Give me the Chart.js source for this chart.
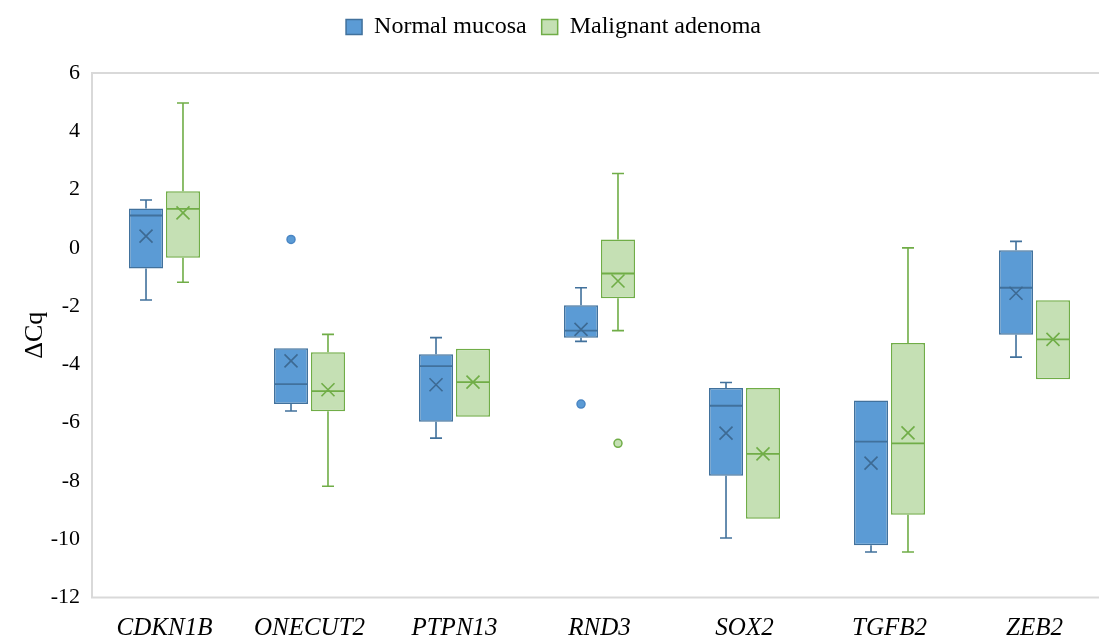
<!DOCTYPE html>
<html>
<head>
<meta charset="utf-8">
<script src="https://cdn.jsdelivr.net/npm/chart.js@4.4.1/dist/chart.umd.min.js"></script>
<style>
  html, body { margin: 0; padding: 0; background: #ffffff; overflow: hidden; }
  #wrap { width: 1115px; height: 639px; }
</style>
</head>
<body>
<div id="wrap"><canvas id="chart" width="1115" height="639"></canvas></div>
<script>
// Genes on the x axis
const categories = ['CDKN1B', 'ONECUT2', 'PTPN13', 'RND3', 'SOX2', 'TGFB2', 'ZEB2'];

// Normal mucosa: five-number summary, mean and outliers (ΔCq)
const normalMin      = [-1.79, -5.60, -6.53, -3.21, -9.96, -10.44, -3.75];
const normalQ1       = [-0.71, -5.36, -5.97, -3.09, -7.82, -10.21, -2.98];
const normalMedian   = [ 1.11, -4.68, -4.06, -2.84, -5.42,  -6.65, -1.37];
const normalQ3       = [ 1.35, -3.45, -3.65, -1.97, -4.81,  -5.24, -0.08];
const normalMax      = [ 1.64, -3.45, -3.08, -1.37, -4.62,  -5.24,  0.22];
const normalMean     = [ 0.40, -3.88, -4.70, -2.80, -6.36,  -7.39, -1.56];
const normalOutliers = [[], [0.29], [], [-5.36], [], [], []];

// Malignant adenoma: five-number summary, mean and outliers (ΔCq)
const adenomaMin      = [-1.18, -8.18, -5.80, -2.84, -9.30, -10.44, -4.51];
const adenomaQ1       = [-0.34, -5.61, -5.80, -1.73, -9.30,  -9.16, -4.51];
const adenomaMedian   = [ 1.34, -4.92, -4.61, -0.88, -7.07,  -6.71, -3.14];
const adenomaQ3       = [ 1.94, -3.58, -3.46,  0.29, -4.81,  -3.27, -1.80];
const adenomaMax      = [ 4.97, -2.97, -3.46,  2.55, -4.81,   0.00, -1.80];
const adenomaMean     = [ 1.20, -4.87, -4.61, -1.14, -7.07,  -6.35, -3.14];
const adenomaOutliers = [[], [], [], [-6.71], [], [], []];

// y axis tick values
const yTicks = [-12, -10, -8, -6, -4, -2, 0, 2, 4, 6];

const serif = "'Liberation Serif', 'Times New Roman', serif";

// Light grey frame around the plotting area
const plotFrame = {
  id: 'plotFrame',
  beforeDatasetsDraw(chart) {
    const { ctx, chartArea: a } = chart;
    ctx.save();
    ctx.strokeStyle = '#d9d9d9';
    ctx.lineWidth = 2;
    ctx.beginPath();
    ctx.moveTo(a.right + 5, a.top);
    ctx.lineTo(a.left, a.top);
    ctx.lineTo(a.left, a.bottom);
    ctx.lineTo(a.right + 5, a.bottom);
    ctx.stroke();
    ctx.restore();
  }
};

// Keeps the legend band at a fixed height above the plot
const legendBand = {
  id: 'legendBand',
  beforeLayout(chart) {
    const lg = chart.legend;
    if (lg && !lg._bandFixed) {
      const fit = lg.fit;
      lg.fit = function () { fit.call(this); this.height = 73; };
      lg._bandFixed = true;
    }
  }
};

// Whiskers, medians, means and outlier points on top of the quartile boxes
const boxDetails = {
  id: 'boxDetails',
  afterDatasetsDraw(chart) {
    const { ctx } = chart;
    const y = chart.scales.y;
    chart.data.datasets.forEach((ds, di) => {
      const meta = chart.getDatasetMeta(di);
      if (meta.hidden) return;
      const s = ds.stats;
      meta.data.forEach((bar, i) => {
        const x = bar.x;
        const half = bar.width / 2;
        const q1 = ds.data[i][0], q3 = ds.data[i][1];
        const yQ1 = y.getPixelForValue(q1);
        const yQ3 = y.getPixelForValue(q3);
        ctx.save();
        ctx.strokeStyle = s.lineColor;
        ctx.lineWidth = 1.6;
        ctx.lineCap = 'butt';
        // upper whisker
        if (s.max[i] > q3) {
          const yMax = y.getPixelForValue(s.max[i]);
          ctx.beginPath();
          ctx.moveTo(x, yQ3); ctx.lineTo(x, yMax);
          ctx.moveTo(x - 6, yMax); ctx.lineTo(x + 6, yMax);
          ctx.stroke();
        }
        // lower whisker
        if (s.min[i] < q1) {
          const yMin = y.getPixelForValue(s.min[i]);
          ctx.beginPath();
          ctx.moveTo(x, yQ1); ctx.lineTo(x, yMin);
          ctx.moveTo(x - 6, yMin); ctx.lineTo(x + 6, yMin);
          ctx.stroke();
        }
        // median
        const yMed = y.getPixelForValue(s.median[i]);
        ctx.lineWidth = 1.8;
        ctx.beginPath();
        ctx.moveTo(x - half + 1, yMed); ctx.lineTo(x + half - 1, yMed);
        ctx.stroke();
        // mean marker (x)
        const yMean = y.getPixelForValue(s.mean[i]);
        ctx.strokeStyle = s.meanColor;
        ctx.lineWidth = 1.6;
        ctx.beginPath();
        ctx.moveTo(x - 6.5, yMean - 6.5); ctx.lineTo(x + 6.5, yMean + 6.5);
        ctx.moveTo(x + 6.5, yMean - 6.5); ctx.lineTo(x - 6.5, yMean + 6.5);
        ctx.stroke();
        // outliers
        s.outliers[i].forEach(v => {
          const yo = y.getPixelForValue(v);
          ctx.beginPath();
          ctx.arc(x, yo, 4, 0, Math.PI * 2);
          ctx.fillStyle = s.dotFill;
          ctx.fill();
          ctx.lineWidth = 1.5;
          ctx.strokeStyle = s.dotStroke;
          ctx.stroke();
        });
        ctx.restore();
      });
    });
  }
};

new Chart(document.getElementById('chart'), {
  type: 'bar',
  data: {
    labels: categories,
    datasets: [
      {
        label: 'Normal mucosa',
        data: categories.map((_, i) => [normalQ1[i], normalQ3[i]]),
        backgroundColor: '#5b9bd5',
        borderColor: '#41719c',
        borderWidth: 1.5,
        borderSkipped: false,
        categoryPercentage: 0.51,
        barPercentage: 0.92,
        stats: {
          min: normalMin, median: normalMedian, max: normalMax,
          mean: normalMean, outliers: normalOutliers,
          lineColor: '#41719c', meanColor: '#3d6a93',
          dotFill: '#5b9bd5', dotStroke: '#4a86c4'
        }
      },
      {
        label: 'Malignant adenoma',
        data: categories.map((_, i) => [adenomaQ1[i], adenomaQ3[i]]),
        backgroundColor: '#c5e0b4',
        borderColor: '#70ad47',
        borderWidth: 1.5,
        borderSkipped: false,
        categoryPercentage: 0.51,
        barPercentage: 0.92,
        stats: {
          min: adenomaMin, median: adenomaMedian, max: adenomaMax,
          mean: adenomaMean, outliers: adenomaOutliers,
          lineColor: '#70ad47', meanColor: '#70ad47',
          dotFill: '#c5e0b4', dotStroke: '#70ad47'
        }
      }
    ]
  },
  options: {
    responsive: false,
    animation: false,
    devicePixelRatio: 1,
    layout: { padding: { left: 0, right: 8, top: 0, bottom: 0 } },
    plugins: {
      tooltip: { enabled: false },
      legend: {
        position: 'top',
        labels: {
          font: { family: serif, size: 24 },
          color: '#000000',
          boxWidth: 16,
          boxHeight: 15,
          padding: 15
        }
      }
    },
    scales: {
      x: {
        grid: { display: false, drawTicks: false },
        border: { display: false },
        ticks: {
          font: { family: serif, size: 25, style: 'italic' },
          color: '#000000',
          padding: 16,
          maxRotation: 0
        },
        afterFit(scale) { scale.height = 41.5; }
      },
      y: {
        min: -12,
        max: 6,
        grid: { display: false, drawTicks: false },
        border: { display: false },
        afterBuildTicks(scale) { scale.ticks = yTicks.map(v => ({ value: v })); },
        ticks: {
          font: { family: serif, size: 22 },
          color: '#000000',
          padding: 12
        },
        title: {
          display: true,
          text: 'ΔCq',
          font: { family: serif, size: 26 },
          color: '#000000',
          padding: { top: 20, bottom: 0 }
        },
        afterFit(scale) { scale.width = 92; }
      }
    }
  },
  plugins: [legendBand, plotFrame, boxDetails]
});
</script>
</body>
</html>
